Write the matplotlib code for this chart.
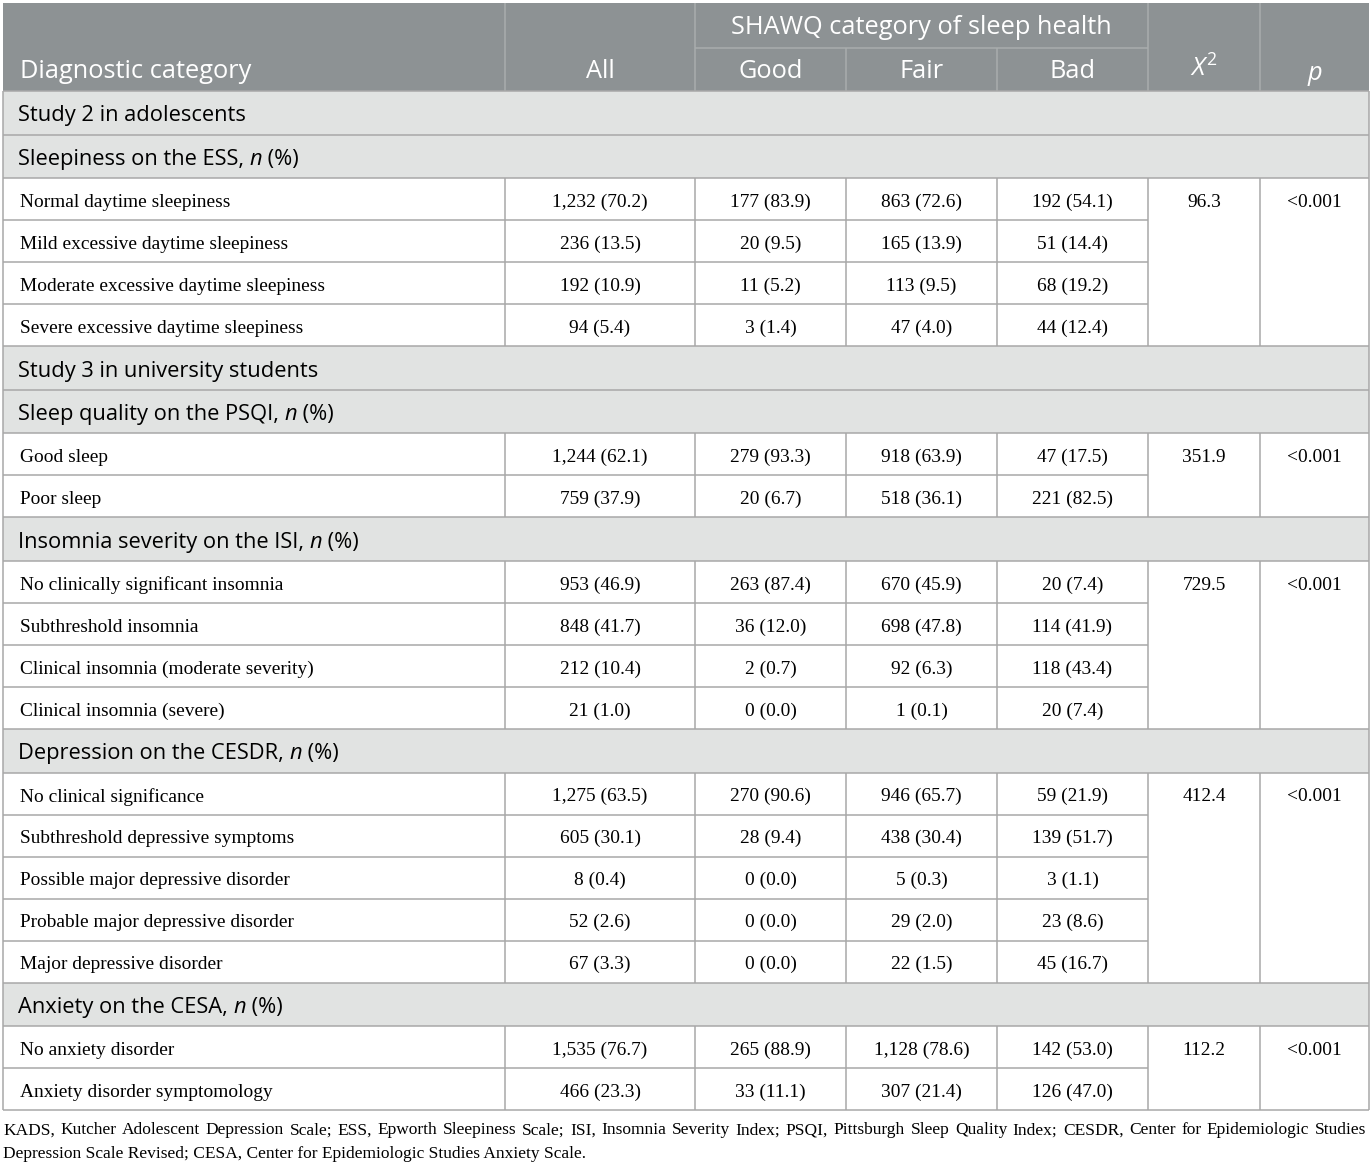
import matplotlib
matplotlib.use("Agg")
import matplotlib.pyplot as plt
from matplotlib.patches import Rectangle
from matplotlib.font_manager import FontProperties
from matplotlib.textpath import TextPath

W, H = 1372, 1165

# ---- data ----
group_columns = ["All", "Good", "Fair", "Bad"]
header_first = "Diagnostic category"
header_span = "SHAWQ category of sleep health"

study2_title = "Study 2 in adolescents"
study3_title = "Study 3 in university students"

ess_title = "Sleepiness on the ESS"
ess_labels = ["Normal daytime sleepiness", "Mild excessive daytime sleepiness",
              "Moderate excessive daytime sleepiness", "Severe excessive daytime sleepiness"]
ess_values = [["1,232 (70.2)", "177 (83.9)", "863 (72.6)", "192 (54.1)"],
              ["236 (13.5)", "20 (9.5)", "165 (13.9)", "51 (14.4)"],
              ["192 (10.9)", "11 (5.2)", "113 (9.5)", "68 (19.2)"],
              ["94 (5.4)", "3 (1.4)", "47 (4.0)", "44 (12.4)"]]
ess_chi, ess_p = "96.3", "<0.001"

psqi_title = "Sleep quality on the PSQI"
psqi_labels = ["Good sleep", "Poor sleep"]
psqi_values = [["1,244 (62.1)", "279 (93.3)", "918 (63.9)", "47 (17.5)"],
               ["759 (37.9)", "20 (6.7)", "518 (36.1)", "221 (82.5)"]]
psqi_chi, psqi_p = "351.9", "<0.001"

isi_title = "Insomnia severity on the ISI"
isi_labels = ["No clinically significant insomnia", "Subthreshold insomnia",
              "Clinical insomnia (moderate severity)", "Clinical insomnia (severe)"]
isi_values = [["953 (46.9)", "263 (87.4)", "670 (45.9)", "20 (7.4)"],
              ["848 (41.7)", "36 (12.0)", "698 (47.8)", "114 (41.9)"],
              ["212 (10.4)", "2 (0.7)", "92 (6.3)", "118 (43.4)"],
              ["21 (1.0)", "0 (0.0)", "1 (0.1)", "20 (7.4)"]]
isi_chi, isi_p = "729.5", "<0.001"

cesdr_title = "Depression on the CESDR"
cesdr_labels = ["No clinical significance", "Subthreshold depressive symptoms",
                "Possible major depressive disorder", "Probable major depressive disorder",
                "Major depressive disorder"]
cesdr_values = [["1,275 (63.5)", "270 (90.6)", "946 (65.7)", "59 (21.9)"],
                ["605 (30.1)", "28 (9.4)", "438 (30.4)", "139 (51.7)"],
                ["8 (0.4)", "0 (0.0)", "5 (0.3)", "3 (1.1)"],
                ["52 (2.6)", "0 (0.0)", "29 (2.0)", "23 (8.6)"],
                ["67 (3.3)", "0 (0.0)", "22 (1.5)", "45 (16.7)"]]
cesdr_chi, cesdr_p = "412.4", "<0.001"

cesa_title = "Anxiety on the CESA"
cesa_labels = ["No anxiety disorder", "Anxiety disorder symptomology"]
cesa_values = [["1,535 (76.7)", "265 (88.9)", "1,128 (78.6)", "142 (53.0)"],
               ["466 (23.3)", "33 (11.1)", "307 (21.4)", "126 (47.0)"]]
cesa_chi, cesa_p = "112.2", "<0.001"

footnote = ("KADS, Kutcher Adolescent Depression Scale; ESS, Epworth Sleepiness Scale; "
            "ISI, Insomnia Severity Index; PSQI, Pittsburgh Sleep Quality Index; CESDR, "
            "Center for Epidemiologic Studies Depression Scale Revised; CESA, Center for "
            "Epidemiologic Studies Anxiety Scale.")

blocks = [
    ("title", study2_title),
    ("group", ess_title, ess_labels, ess_values, ess_chi, ess_p),
    ("title", study3_title),
    ("group", psqi_title, psqi_labels, psqi_values, psqi_chi, psqi_p),
    ("group", isi_title, isi_labels, isi_values, isi_chi, isi_p),
    ("group", cesdr_title, cesdr_labels, cesdr_values, cesdr_chi, cesdr_p),
    ("group", cesa_title, cesa_labels, cesa_values, cesa_chi, cesa_p),
]

# ---- layout / style ----
col_edges = [3, 505, 695, 846, 997, 1148, 1260, 1369]
head_top, head_mid, head_bot = 3, 48, 91
sec_h, row_h = 43.6, 42.0
dy = 3  # text sits a little below geometric centre

head_bg = "#8d9294"
head_line = "#a9adae"
sec_bg = "#e1e3e2"
grid = "#a8a8a8"
sans = "Open Sans"
serif = "Liberation Serif"

plt.rcParams["mathtext.fontset"] = "custom"
plt.rcParams["mathtext.rm"] = sans
plt.rcParams["mathtext.it"] = sans + ":italic"


def fit_size(text, family, target_px, style="normal"):
    fp = FontProperties(family=family, style=style, size=10)
    w = TextPath((0, 0), text, prop=fp).get_extents().width  # in points at size 10
    return 10 * target_px / (w * 100 / 72)


head_fs = fit_size(header_first, sans, 229)
sec_fs = fit_size(study2_title, sans, 225)
data_fs = fit_size(ess_labels[0], serif, 208)
foot_fs = fit_size("Depression Scale Revised; CESA, Center for Epidemiologic Studies Anxiety Scale.",
                   serif, 580)

fig = plt.figure(figsize=(W / 100, H / 100), dpi=100)
ax = fig.add_axes([0, 0, 1, 1])
ax.set_xlim(0, W)
ax.set_ylim(H, 0)
ax.axis("off")
renderer = fig.canvas.get_renderer()


def hline(x0, x1, y, color=grid, lw=1.1):
    ax.plot([x0, x1], [y, y], color=color, lw=lw, solid_capstyle="butt")


def vline(x, y0, y1, color=grid, lw=1.1):
    ax.plot([x, x], [y0, y1], color=color, lw=lw, solid_capstyle="butt")


def rich(x, y, parts, size, family, color="black"):
    for txt, style in parts:
        t = ax.text(x, y, txt, fontsize=size, family=family, style=style,
                    color=color, va="center", ha="left")
        x += t.get_window_extent(renderer).width


cx = [(col_edges[i] + col_edges[i + 1]) / 2 for i in range(len(col_edges) - 1)]

# header
ax.add_patch(Rectangle((col_edges[0], head_top), col_edges[-1] - col_edges[0],
                       head_bot - head_top, color=head_bg, lw=0))
for x in [col_edges[1], col_edges[2], col_edges[5], col_edges[6]]:
    vline(x, head_top, head_bot, color=head_line)
for x in [col_edges[3], col_edges[4]]:
    vline(x, head_mid, head_bot, color=head_line)
hline(col_edges[2], col_edges[5], head_mid, color=head_line)
hy = 72
ax.text(20, hy, header_first, fontsize=head_fs, family=sans, color="white", va="center")
ax.text(cx[1], hy, group_columns[0], fontsize=head_fs, family=sans, color="white",
        va="center", ha="center")
ax.text((col_edges[2] + col_edges[5]) / 2, 28, header_span, fontsize=head_fs, family=sans,
        color="white", va="center", ha="center")
for i, name in enumerate(group_columns[1:]):
    ax.text(cx[2 + i], hy, name, fontsize=head_fs, family=sans, color="white",
            va="center", ha="center")
ax.text(cx[5], 68, r"$\mathit{X}^{2}$", fontsize=head_fs, color="white",
        va="center", ha="center")
ax.text(cx[6], hy + 1, "p", fontsize=head_fs, family=sans, style="italic", color="white",
        va="center", ha="center")

# body
y = head_bot
x0, x1 = col_edges[0], col_edges[-1]
for blk in blocks:
    if blk[0] == "title":
        parts = [(blk[1], "normal")]
    else:
        parts = [(blk[1] + ", ", "normal"), ("n", "italic"), (" (%)", "normal")]
    ax.add_patch(Rectangle((x0, y), x1 - x0, sec_h, color=sec_bg, lw=0))
    hline(x0, x1, y)
    vline(x0, y, y + sec_h)
    vline(x1, y, y + sec_h)
    rich(18, y + sec_h / 2 + dy, parts, sec_fs, sans)
    y += sec_h
    if blk[0] != "group":
        continue
    _, _, labels, values, chi, p = blk
    g_top = y
    hline(x0, x1, y)
    for i, (lab, vals) in enumerate(zip(labels, values)):
        if i > 0:
            hline(x0, col_edges[5], y)
        yc = y + row_h / 2 + dy
        ax.text(20, yc, lab, fontsize=data_fs, family=serif, va="center")
        for j, v in enumerate(vals):
            ax.text(cx[1 + j], yc, v, fontsize=data_fs, family=serif, va="center", ha="center")
        if i == 0:
            ax.text(cx[5], yc, chi, fontsize=data_fs, family=serif, va="center", ha="center")
            ax.text(cx[6], yc, p, fontsize=data_fs, family=serif, va="center", ha="center")
        y += row_h
    for x in col_edges:
        vline(x, g_top, y)
hline(x0, x1, y)

# footnote, first line justified
words = footnote.split(" ")
line1_end = words.index("Studies") + 1
line1, line2 = words[:line1_end], words[line1_end:]
fy1, fy2 = y + 20, y + 44
widths = []
for w in line1:
    t = ax.text(0, fy1, w, fontsize=foot_fs, family=serif, va="center")
    widths.append(t.get_window_extent(renderer).width)
    t.remove()
gap = (1366 - 3 - sum(widths)) / (len(line1) - 1)
xp = 3
for w, wd in zip(line1, widths):
    ax.text(xp, fy1, w, fontsize=foot_fs, family=serif, va="center")
    xp += wd + gap
ax.text(3, fy2, " ".join(line2), fontsize=foot_fs, family=serif, va="center")

fig.savefig("out.png", dpi=100)
